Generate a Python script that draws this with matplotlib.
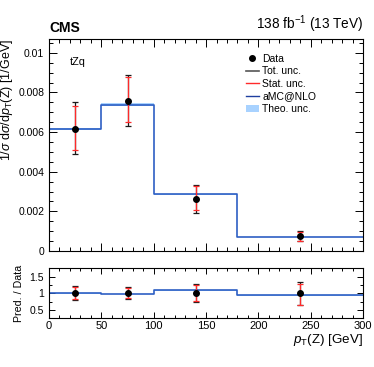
import numpy as np
import matplotlib
matplotlib.use("Agg")
import matplotlib.pyplot as plt
from matplotlib.lines import Line2D
from matplotlib.patches import Patch
from matplotlib.ticker import MultipleLocator

plt.rcParams['font.family'] = ['Liberation Sans', 'DejaVu Sans']
plt.rcParams['mathtext.fontset'] = 'custom'
plt.rcParams['mathtext.rm'] = 'Liberation Sans'
plt.rcParams['mathtext.it'] = 'Liberation Sans:italic'

# Binning of pT(Z) in GeV
bin_edges = [0, 50, 100, 180, 300]
bin_centres = [25, 75, 140, 240]

# Normalised cross section, 1/GeV
data_val = [0.00616, 0.00759, 0.00264, 0.00076]
tot_up = [0.00135, 0.00131, 0.00071, 0.00026]
tot_down = [0.00128, 0.00126, 0.00071, 0.00027]
stat_up = [0.00116, 0.00118, 0.00066, 0.00022]
stat_down = [0.00106, 0.00109, 0.00058, 0.00026]

# aMC@NLO prediction and its theory uncertainty (relative)
pred_val = [0.00615, 0.00739, 0.00286, 0.00071]
theo_rel = [0.01, 0.01, 0.01, 0.015]

col_pred = '#2d5fc4'
col_band = '#a8d2ff'
col_stat = '#ff2a2a'
col_tot = '#1a1a1a'

fig = plt.figure(figsize=(3.74, 3.67), dpi=100)
ax = fig.add_axes([0.131, 0.316, 0.840, 0.578])
rax = fig.add_axes([0.131, 0.133, 0.840, 0.136])

data_val = np.array(data_val)
pred_val = np.array(pred_val)
theo_rel = np.array(theo_rel)
edges = np.array(bin_edges)
pred_step = np.append(pred_val, pred_val[-1])
band_step = np.append(theo_rel, theo_rel[-1])

# main panel
ax.fill_between(edges, pred_step * (1 - band_step), pred_step * (1 + band_step),
                step='post', color=col_band, lw=0)
ax.step(edges, pred_step, where='post', color=col_pred, lw=1.2)
ax.errorbar(bin_centres, data_val, yerr=[tot_down, tot_up], fmt='none',
            ecolor=col_tot, elinewidth=0.9, capsize=2, capthick=0.9)
ax.errorbar(bin_centres, data_val, yerr=[stat_down, stat_up], fmt='none',
            ecolor=col_stat, elinewidth=0.9, capsize=2, capthick=0.9)
ax.plot(bin_centres, data_val, 'o', color='black', ms=4)

ax.set_xlim(0, 300)
ax.set_ylim(0, 0.0107)
ax.set_yticks([0, 0.002, 0.004, 0.006, 0.008, 0.01])
ax.set_yticklabels(['0', '0.002', '0.004', '0.006', '0.008', '0.01'])
ax.yaxis.set_minor_locator(MultipleLocator(0.0005))
ax.xaxis.set_major_locator(MultipleLocator(50))
ax.xaxis.set_minor_locator(MultipleLocator(10))
ax.set_xticklabels([])
ax.set_ylabel(r'1/$\sigma$ d$\sigma$/d$p_{\mathrm{T}}$(Z) [1/GeV]', fontsize=9, loc='top', labelpad=2)

# ratio panel
ratio = pred_val / data_val
ratio_step = np.append(ratio, ratio[-1])
rax.fill_between(edges, ratio_step * (1 - band_step), ratio_step * (1 + band_step),
                 step='post', color=col_band, lw=0)
rax.step(edges, ratio_step, where='post', color=col_pred, lw=1.2)
ones = np.ones(len(bin_centres))
rax.errorbar(bin_centres, ones, yerr=[np.array(tot_down) / data_val, np.array(tot_up) / data_val],
             fmt='none', ecolor=col_tot, elinewidth=0.9, capsize=2, capthick=0.9)
rax.errorbar(bin_centres, ones, yerr=[np.array(stat_down) / data_val, np.array(stat_up) / data_val],
             fmt='none', ecolor=col_stat, elinewidth=0.9, capsize=2, capthick=0.9)
rax.plot(bin_centres, ones, 'o', color='black', ms=4)

rax.set_xlim(0, 300)
rax.set_ylim(0.25, 1.75)
rax.set_yticks([0.5, 1, 1.5])
rax.set_yticklabels(['0.5', '1', '1.5'])
rax.yaxis.set_minor_locator(MultipleLocator(0.25))
rax.xaxis.set_major_locator(MultipleLocator(50))
rax.xaxis.set_minor_locator(MultipleLocator(10))
rax.set_ylabel('Pred. / Data', fontsize=7.7, labelpad=4)
rax.set_xlabel(r'$p_{\mathrm{T}}$(Z) [GeV]', fontsize=9.6, loc='right', labelpad=1)

for a in (ax, rax):
    a.tick_params(which='both', direction='in', top=True, right=True, labelsize=7.5, width=0.7)
    a.tick_params(which='major', length=6)
    a.tick_params(which='minor', length=3)
    for s in a.spines.values():
        s.set_linewidth(0.8)
rax.tick_params(which='major', length=4)
rax.tick_params(which='minor', length=2)
rax.tick_params(axis='x', pad=2, labelsize=8)

fig.text(0.131, 0.905, 'CMS', fontsize=10, fontweight='bold', ha='left', va='bottom')
fig.text(0.971, 0.905, r'138 fb$^{-1}$ (13 TeV)', fontsize=9.8, ha='right', va='bottom')
ax.text(0.067, 0.915, 'tZq', fontsize=7.8, va='top', transform=ax.transAxes)

handles = [
    Line2D([], [], marker='o', color='black', ls='none', ms=4),
    Line2D([], [], color='#555555', lw=1.2),
    Line2D([], [], color=col_stat, lw=1.0),
    Line2D([], [], color='#1f3f9f', lw=1.0),
    Patch(facecolor=col_band, edgecolor='none'),
]
labels = ['Data', 'Tot. unc.', 'Stat. unc.', 'aMC@NLO', 'Theo. unc.']
fig.legend(handles, labels, loc='upper left', bbox_to_anchor=(0.657, 0.854),
           frameon=False, fontsize=7.5, handlelength=1.3, handletextpad=0.3,
           labelspacing=0.25, borderpad=0, borderaxespad=0)

fig.savefig('out.png', dpi=100)
